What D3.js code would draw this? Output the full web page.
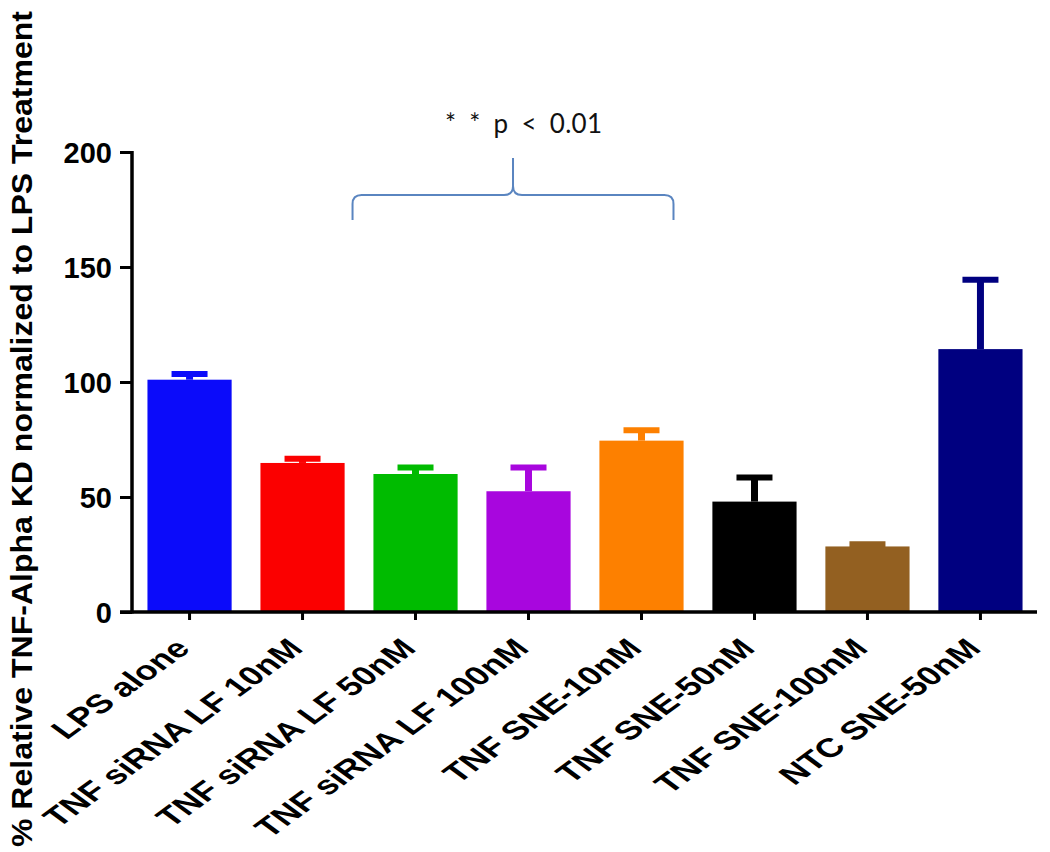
<!DOCTYPE html>
<html><head><meta charset="utf-8">
<script src="https://cdn.jsdelivr.net/npm/d3@7"></script>
<style>body{margin:0;background:#fff}</style>
</head><body>
<svg id="chart" width="1050" height="852"></svg>
<script>
const categories = ["LPS alone","TNF siRNA LF 10nM","TNF siRNA LF 50nM","TNF siRNA LF 100nM","TNF SNE-10nM","TNF SNE-50nM","TNF SNE-100nM","NTC SNE-50nM"];
const means = [101, 64.8, 60, 52.5, 74.5, 48, 28.5, 114.3];
const errUpper = [103.5, 66.6, 62.8, 62.8, 79, 58.5, 29.5, 144.5];
const colors = ["#0b0bfa","#fb0000","#00bb00","#a806de","#fd8000","#000000","#936021","#000080"];
const yTicks = [0, 50, 100, 150, 200];
const yTitle = "% Relative TNF-Alpha KD normalized to LPS Treatment";
const annotation = "* * p < 0.01";
const bracketGroups = ["TNF siRNA LF 10nM", "TNF SNE-10nM"];

const svg = d3.select("#chart");
const x = d3.scaleBand().domain(categories).range([133, 1037]).paddingInner(0.255).paddingOuter(0.128);
const y = d3.scaleLinear().domain([0, 200]).range([612, 152]);

// bars
svg.append("g").selectAll("rect").data(categories).join("rect")
  .attr("x", d => x(d)).attr("width", x.bandwidth())
  .attr("y", (d,i) => y(means[i])).attr("height", (d,i) => y(0) - y(means[i]))
  .attr("fill", (d,i) => colors[i]);

// error bars
const eg = svg.append("g");
categories.forEach((c,i) => {
  const cx = x(c) + x.bandwidth()/2;
  eg.append("line").attr("x1", cx).attr("x2", cx).attr("y1", y(means[i])).attr("y2", y(errUpper[i]))
    .attr("stroke", colors[i]).attr("stroke-width", 7);
  eg.append("line").attr("x1", cx-18).attr("x2", cx+18).attr("y1", y(errUpper[i])).attr("y2", y(errUpper[i]))
    .attr("stroke", colors[i]).attr("stroke-width", 6);
});

// y axis
const yAxis = svg.append("g").attr("transform", "translate(132,0)")
  .call(d3.axisLeft(y).tickValues(yTicks).tickSize(12).tickSizeOuter(0).tickPadding(8));
yAxis.select(".domain").attr("stroke", "#000").attr("stroke-width", 3.5).attr("d", `M0,${y(200)-1}V${y(0)+1.5}`);
yAxis.selectAll(".tick line").attr("stroke", "#000").attr("stroke-width", 3);
yAxis.selectAll(".tick text").attr("font-family", "Liberation Sans, Arial, sans-serif").attr("font-weight", "bold")
  .attr("font-size", 29).attr("fill", "#000").attr("dy", "0.36em");

// x axis
const xAxis = svg.append("g").attr("transform", `translate(0,${y(0)})`)
  .call(d3.axisBottom(x).tickSize(8).tickSizeOuter(0));
xAxis.select(".domain").attr("stroke", "#000").attr("stroke-width", 3.5).attr("d", `M120,0H1037`);
xAxis.selectAll(".tick line").attr("stroke", "#000").attr("stroke-width", 3);
xAxis.selectAll(".tick text")
  .attr("font-family", "Liberation Sans, Arial, sans-serif").attr("font-weight", "bold")
  .attr("font-size", 26.5).attr("fill", "#000")
  .attr("text-anchor", "end").attr("y", 0).attr("dy", 0)
  .attr("transform", "translate(2,38) scale(1.38,1) rotate(-45)");

// y title
svg.append("text")
  .attr("transform", "translate(32,429) rotate(-90)")
  .attr("text-anchor", "middle")
  .attr("font-family", "Liberation Sans Narrow, Liberation Sans, Arial, sans-serif")
  .attr("font-weight", "bold").attr("font-size", 29)
  .attr("textLength", 836).attr("lengthAdjust", "spacingAndGlyphs")
  .text(yTitle);

// bracket
const bx0 = x(bracketGroups[0]) + x.bandwidth()/2 + 50;
const bx1 = x(bracketGroups[1]) + x.bandwidth()/2 + 32;
const bm = (bx0 + bx1) / 2;
const yb = 195, ye = 220, yt = 158, r = 9;
const p = d3.path();
p.moveTo(bx0, ye); p.lineTo(bx0, yb + r); p.quadraticCurveTo(bx0, yb, bx0 + r, yb);
p.lineTo(bm - r, yb); p.quadraticCurveTo(bm, yb, bm, yb - r); p.lineTo(bm, yt);
p.moveTo(bm, yb - r); p.quadraticCurveTo(bm, yb, bm + r, yb);
p.lineTo(bx1 - r, yb); p.quadraticCurveTo(bx1, yb, bx1, yb + r); p.lineTo(bx1, ye);
svg.append("path").attr("d", p.toString()).attr("fill", "none").attr("stroke", "#5a85c0").attr("stroke-width", 2);

svg.append("text").attr("x", 445).attr("y", 133)
  .attr("font-family", "Lato, Open Sans, sans-serif").attr("font-size", 26).attr("fill", "#111")
  .attr("word-spacing", 6).attr("letter-spacing", 0.3)
  .text(annotation);
</script>
</body></html>
